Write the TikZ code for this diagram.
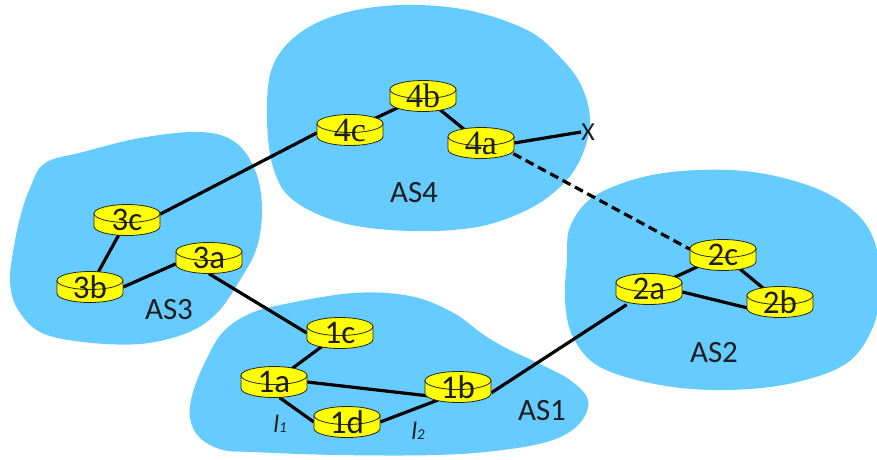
\documentclass[tikz,border=0pt]{standalone}
\usepackage{fontspec}
\setmainfont{Carlito}
\newfontfamily\routerserif{Liberation Serif}
\usetikzlibrary{calc}
\pgfdeclarelayer{blobs}
\pgfdeclarelayer{links}
\pgfsetlayers{blobs,links,main}
\definecolor{asblue}{RGB}{102,204,255}
\definecolor{rtryellow}{RGB}{255,255,0}
\definecolor{ink}{RGB}{30,30,30}

\tikzset{
  rtrshape/.style={fill=rtryellow, draw=black!85, line width=0.8pt},
  rtrlabel/.style={minimum width=66pt, minimum height=31pt, inner sep=0pt,
    text=ink, font=\fontsize{33}{35}\selectfont},
  serifl/.style={font=\routerserif\fontsize{34}{36}\selectfont},
  link/.style={line width=3.2pt, black},
  backup/.style={link, dash pattern=on 9pt off 5pt},
  aslabel/.style={inner sep=0pt, text=ink, font=\fontsize{31}{33}\selectfont},
  xmark/.style={inner sep=0pt, text=ink, font=\fontsize{26}{28}\selectfont},
  linklabel/.style={inner sep=0pt, text=ink, font=\itshape\fontsize{25}{27}\selectfont},
  asarea/.style={fill=asblue},
}

% router: yellow disk with its label node on top
\newcommand\rtr[5][]{%
  \begin{scope}[shift={(#3,#4)}]
    \filldraw[rtrshape] (-33,-6.5) -- (-33,6.5)
      arc[start angle=180, end angle=0, x radius=33, y radius=9] -- (33,-6.5) -- cycle;
    \filldraw[rtrshape] (0,-6.5) ellipse[x radius=33, y radius=9];
  \end{scope}
  \node[rtrlabel,#1] (#2) at (#3,#4) {#5};}

\begin{document}
\begin{tikzpicture}[x=1pt, y=-1pt]
\useasboundingbox (0,0) rectangle (877,459);

% autonomous systems
\begin{pgfonlayer}{blobs}
\fill[asarea] plot[smooth cycle, tension=0.6] coordinates {
  (297,35) (340,14) (400,5) (467,10) (527,30) (560,57) (582,87) (590,123)
  (580,160) (560,187) (527,210) (477,227) (410,231) (343,223) (293,200)
  (273,167) (267,117) (272,68)};
\fill[asarea] plot[smooth cycle, tension=0.6] coordinates {
  (45,163) (83,152) (140,138) (200,132) (235,142) (255,170) (262,207)
  (257,247) (240,280) (217,313) (187,333) (140,344) (83,342) (40,332)
  (17,308) (10,282) (13,252) (20,218) (30,188)};
\fill[asarea] plot[smooth cycle, tension=0.6] coordinates {
  (570,227) (593,197) (643,177) (700,170) (760,173) (820,190) (860,217)
  (877,250) (879,290) (873,327) (847,363) (793,383) (727,390) (660,385)
  (600,367) (573,337) (565,300) (567,260)};
\fill[asarea] plot[smooth cycle, tension=0.6] coordinates {
  (223,332) (247,315) (280,305) (353,293) (410,296) (452,312) (484,335)
  (508,349) (540,364) (570,380) (588,400) (580,423) (553,440) (503,450)
  (437,455) (337,455) (253,452) (223,450) (200,438) (190,418) (193,392)
  (207,358)};
\end{pgfonlayer}

% routers
\rtr[serifl]{r4b}{423}{96}{4b}
\rtr[serifl]{r4c}{350}{130}{4c}
\rtr[serifl]{r4a}{481}{143}{4a}
\rtr{r3c}{127}{220}{3c}
\rtr{r3a}{209}{258}{3a}
\rtr{r3b}{90}{287}{3b}
\rtr{r1c}{340}{333}{1c}
\rtr{r1a}{274}{382}{1a}
\rtr{r1b}{458}{387}{1b}
\rtr{r1d}{347}{422}{1d}
\rtr{r2c}{723}{255}{2c}
\rtr{r2a}{649}{289}{2a}
\rtr{r2b}{780}{302}{2b}

\node[xmark] (X) at (588,132) {X};

% labels
\node[aslabel] (as4) at (414,193) {AS4};
\node[aslabel] (as3) at (169,310) {AS3};
\node[aslabel] (as1) at (542,411) {AS1};
\node[aslabel] (as2) at (714,353) {AS2};
\node[linklabel] (l1) at (280,424) {l{\fontsize{15}{15}\selectfont 1}};
\node[linklabel] (l2) at (418,431) {l{\fontsize{15}{15}\selectfont 2}};

% links
\begin{pgfonlayer}{links}
\draw[link] (r3c.10) -- (r4c.185);
\draw[link] (r4c.center) -- (r4b.center);
\draw[link] (r4b.center) -- (r4a.center);
\draw[link] (r4a.east) -- (X.west);
\draw[backup] ($(r4a.center)+(20,4)$) -- (r2c.170);
\draw[link] (r3c.center) -- (r3b.center);
\draw[link] (r3b.east) -- (r3a.190);
\draw[link] (r3a.south) -- (r1c.west);
\draw[link] (r1c.center) -- (r1a.center);
\draw[link] (r1a.east) -- ($(r1b.center)+(-11,11)$);
\draw[link] (r1a.-70) -- (r1d.west);
\draw[link] (r1d.east) -- ($(r1b.center)+(-20,13)$);
\draw[link] (r1b.-10) -- (r2a.215);
\draw[link] (r2a.center) -- (r2c.center);
\draw[link] (r2c.center) -- (r2b.center);
\draw[link] (r2a.-5) -- ($(r2b.center)+(-20,9)$);
\end{pgfonlayer}
\end{tikzpicture}
\end{document}
